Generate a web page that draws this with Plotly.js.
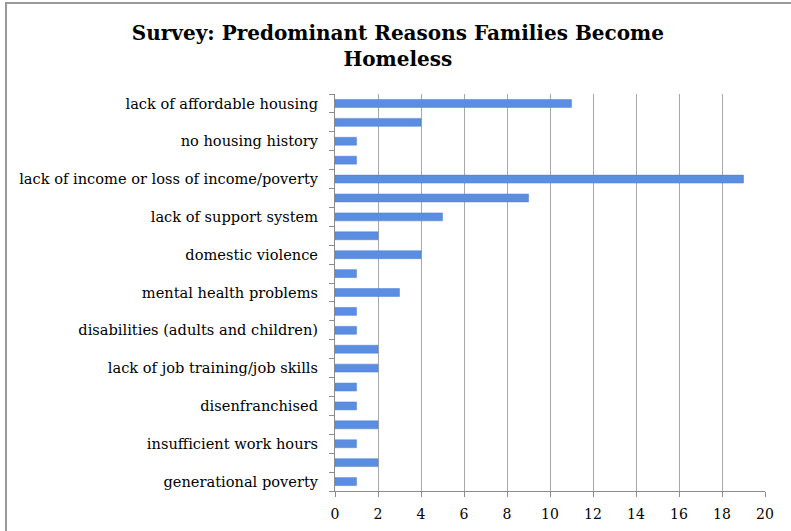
<!DOCTYPE html>
<html>
<head>
<meta charset="utf-8">
<script src="https://cdn.plot.ly/plotly-3.0.1.min.js"></script>
<style>
html,body{margin:0;padding:0;background:#fff;}
#wrap{position:relative;width:791px;height:531px;overflow:hidden;}
#chart{position:absolute;left:0;top:0;width:791px;height:531px;}
#frame{position:absolute;left:5px;top:2px;width:820px;height:560px;border:2px solid #9a9a9a;pointer-events:none;}
</style>
</head>
<body>
<div id="wrap"><div id="chart"></div><div id="frame"></div></div>
<script>
// Category tick labels (top to bottom); "" = label not shown in the reference
var labels = [
  "lack of affordable housing", "",
  "no housing history", "",
  "lack of income or loss of income/poverty", "",
  "lack of support system", "",
  "domestic violence", "",
  "mental health problems", "",
  "disabilities (adults and children)", "",
  "lack of job training/job skills", "",
  "disenfranchised", "",
  "insufficient work hours", "",
  "generational poverty"
];
// Number of responses, same order
var values = [11, 4, 1, 1, 19, 9, 5, 2, 4, 1, 3, 1, 1, 2, 2, 1, 1, 2, 1, 2, 1];
var xTicks = [0, 2, 4, 6, 8, 10, 12, 14, 16, 18, 20];

var idx = labels.map(function(_, i){ return i; });
var labelVals = idx.filter(function(i){ return labels[i] !== ""; });
var labelText = labelVals.map(function(i){ return labels[i]; });
var bounds = [];
for (var b = 0; b <= labels.length; b++) bounds.push(b - 0.5);

var n = labels.length;
var serif = "DejaVu Serif, Liberation Serif, serif";

var traces = [{
  type: "bar",
  orientation: "h",
  x: values,
  y: idx,
  width: 0.42,
  marker: {color: "#5b8ee0", line: {color: "#4a7fd2", width: 0.5}},
  hoverinfo: "x+y",
  yaxis: "y"
}, {
  type: "scatter",
  mode: "markers",
  x: [0],
  y: [0],
  marker: {opacity: 0},
  hoverinfo: "skip",
  showlegend: false,
  yaxis: "y2"
}];

var layout = {
  width: 791,
  height: 531,
  margin: {l: 335, r: 26, t: 94, b: 40},
  paper_bgcolor: "#ffffff",
  plot_bgcolor: "#ffffff",
  showlegend: false,
  bargap: 0,
  title: {
    text: "<b>Survey: Predominant Reasons Families Become<br>Homeless</b>",
    x: 0.503,
    xref: "container",
    xanchor: "center",
    y: 0.924,
    yref: "container",
    yanchor: "top",
    font: {family: serif, size: 20, color: "#000"}
  },
  xaxis: {
    range: [0, 20],
    tickvals: xTicks,
    ticktext: xTicks.map(String),
    showgrid: true,
    gridcolor: "#a8a8a8",
    gridwidth: 1,
    zeroline: false,
    showline: true,
    linecolor: "#8c8c8c",
    linewidth: 1,
    ticks: "outside",
    ticklen: 5,
    tickcolor: "#8c8c8c",
    ticklabelstandoff: 5,
    tickfont: {family: serif, size: 14, color: "#000"},
    fixedrange: true
  },
  yaxis: {
    range: [n - 0.5, -0.5],
    tickmode: "array",
    tickvals: labelVals,
    ticktext: labelText,
    ticks: "",
    showgrid: false,
    zeroline: false,
    showline: false,
    ticklabelstandoff: 16,
    tickfont: {family: serif, size: 14.6, color: "#000"},
    fixedrange: true
  },
  yaxis2: {
    overlaying: "y",
    side: "left",
    range: [n - 0.5, -0.5],
    tickmode: "array",
    tickvals: bounds,
    showticklabels: false,
    ticks: "outside",
    ticklen: 5,
    tickcolor: "#8c8c8c",
    showgrid: false,
    zeroline: false,
    showline: true,
    linecolor: "#8c8c8c",
    linewidth: 1,
    fixedrange: true
  }
};

Plotly.newPlot("chart", traces, layout, {displayModeBar: false, staticPlot: true});
</script>
</body>
</html>
